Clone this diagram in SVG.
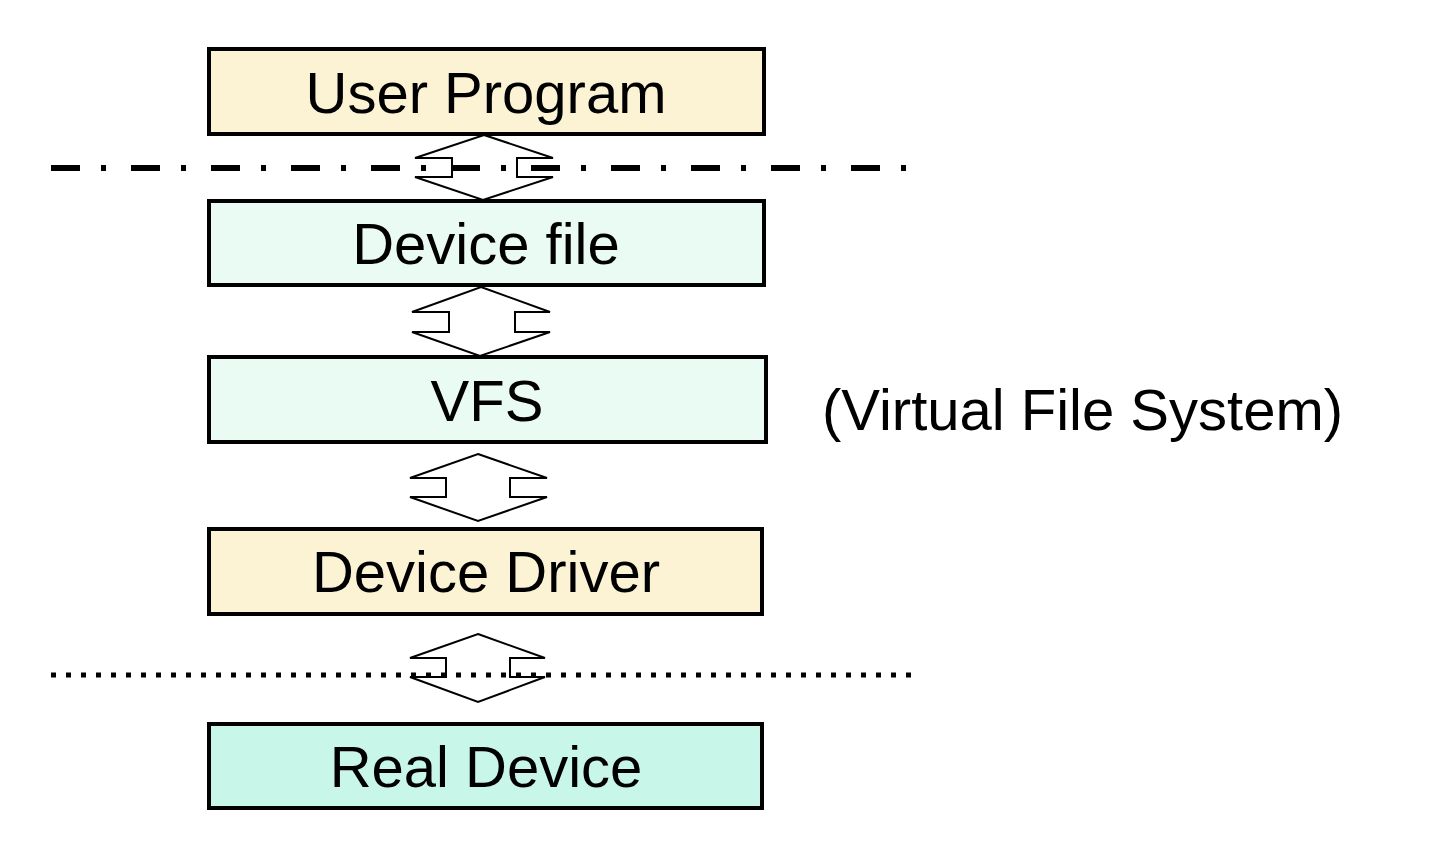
<svg xmlns="http://www.w3.org/2000/svg" width="1452" height="862" viewBox="0 0 1452 862">
<style>
.box{stroke:#000;stroke-width:4}
.cream{fill:#FBF3D3}
.mint{fill:#EAFBF3}
.mint2{fill:#C8F7EA}
.lbl{font-family:"Liberation Sans",Arial,sans-serif;font-size:58px;fill:#000;text-anchor:middle}
.arr{fill:#fff;stroke:#000;stroke-width:2;stroke-linejoin:miter}
</style>
<rect width="1452" height="862" fill="#fff"/>
<g id="connectors">
<polygon class="arr" points="484,135 553,158 517,158 517,177 553,177 483,200 415,177 452,177 452,158 415,158"/>
<polygon class="arr" points="481,287 550,312 515,312 515,332 550,332 480,356 412,332 449,332 449,312 412,312"/>
<polygon class="arr" points="478,454 547,478 510,478 510,497 547,497 478,521 410,497 446,497 446,478 410,478"/>
<polygon class="arr" points="478,634 545,658 510,658 510,677 545,677 478,702 410,677 446,677 446,658 410,658"/>
<line x1="51" y1="168" x2="910" y2="168" stroke="#000" stroke-width="6" stroke-dasharray="29 21 5 25"/>
<line x1="51" y1="675" x2="914" y2="675" stroke="#000" stroke-width="5" stroke-dasharray="5 10"/>
</g>
<g id="user-program">
<rect class="box cream" x="209" y="49" width="555" height="85"/>
<text class="lbl" x="486" y="113">User Program</text>
</g>
<g id="device-file">
<rect class="box mint" x="209" y="201" width="555" height="84"/>
<text class="lbl" x="486" y="264">Device file</text>
</g>
<g id="vfs">
<rect class="box mint" x="209" y="357" width="557" height="85"/>
<text class="lbl" x="487" y="421">VFS</text>
</g>
<g id="vfs-note">
<text class="lbl" x="822" y="430" style="text-anchor:start">(Virtual File System)</text>
</g>
<g id="device-driver">
<rect class="box cream" x="209" y="529" width="553" height="85"/>
<text class="lbl" x="486" y="592">Device Driver</text>
</g>
<g id="real-device">
<rect class="box mint2" x="209" y="724" width="553" height="84"/>
<text class="lbl" x="486" y="787">Real Device</text>
</g>
</svg>
